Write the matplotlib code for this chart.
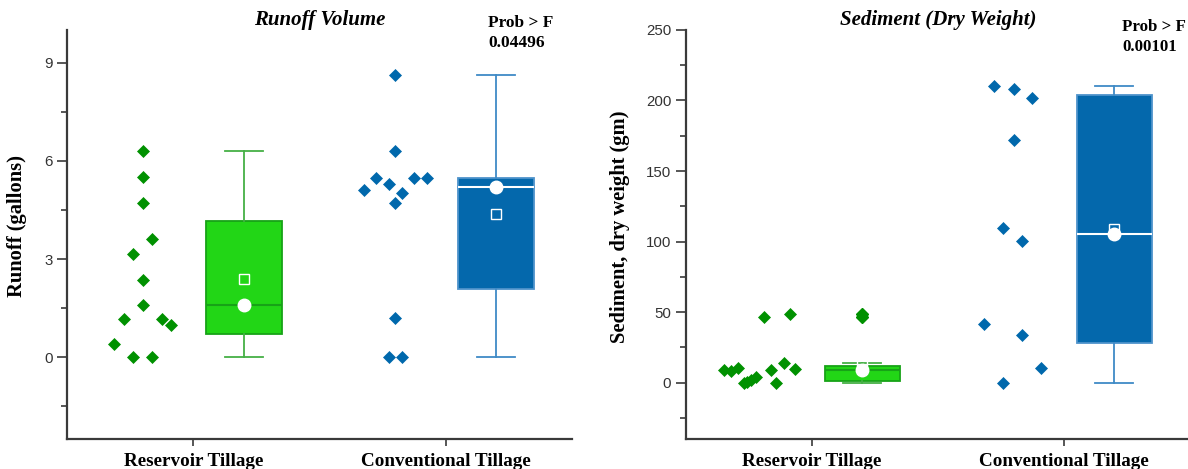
import numpy as np
import matplotlib.pyplot as plt
from matplotlib.ticker import MultipleLocator

# kategori
groups = ["Reservoir Tillage", "Conventional Tillage"]

# data runoff (gallons)
runoff_res = [6.29, 5.51, 4.71, 3.62, 3.14, 2.36, 1.59, 1.18, 1.18, 0.98, 0.41, 0.0, 0.0]
runoff_con = [8.61, 6.29, 5.49, 5.49, 5.49, 5.10, 5.30, 5.02, 4.71, 1.19, 0.0, 0.0]

# data sediment (gm)
sed_res = [9.0, 8.3, 10.3, 0.0, 0.5, 1.9, 4.3, 46.7, 8.8, 0.0, 13.7, 48.6, 9.4]
sed_con = [210.1, 208.5, 202.1, 171.7, 109.8, 100.6, 41.6, 33.6, 10.2, 0.0]

# geseran horizontal titik (jitter)
runoff_res_dx = [0, 0, 0, 0.038, -0.037, 0, 0, -0.075, 0.075, 0.113, -0.113, -0.037, 0.038]
runoff_con_dx = [0, 0, -0.075, 0.075, 0.125, -0.125, -0.025, 0.025, 0, 0, -0.025, 0.025]
sed_res_dx = [-0.149, -0.123, -0.094, -0.070, -0.057, -0.043, -0.021, 0.009, 0.036, 0.059, 0.089, 0.112, 0.134]
sed_con_dx = [-0.077, 0, 0.074, 0, -0.040, 0.035, -0.116, 0.035, 0.111, -0.040]

prob_runoff = "0.04496"
prob_sed = "0.00101"

SERIF = "Liberation Serif"
SANS = "Liberation Sans"

green = dict(dot="#009100", fill="#22D616", edge="#17A317", whisk="#45B045", med="#17A317")
blue = dict(dot="#0068AC", fill="#0468AC", edge="#4E93CB", whisk="#3F8AC6", med="white")


def box_stats(vals):
    v = np.array(vals)
    q1, med, q3 = np.percentile(v, [25, 50, 75], method="weibull")
    iqr = q3 - q1
    lo = v[v >= q1 - 1.5 * iqr].min()
    hi = v[v <= q3 + 1.5 * iqr].max()
    fl = v[(v < lo) | (v > hi)]
    return dict(med=med, q1=q1, q3=q3, whislo=lo, whishi=hi, fliers=fl), v.mean()


def draw_group(ax, vals, dx, pos, c):
    # titik data
    xs = pos - 0.2 + np.array(dx)
    ax.plot(xs, vals, "D", color=c["dot"], ms=6.3, mew=0.5, ls="none", zorder=3)
    # boxplot
    st, mean = box_stats(vals)
    ax.bxp([st], positions=[pos + 0.2], widths=0.3, capwidths=0.15, patch_artist=True,
           boxprops=dict(facecolor=c["fill"], edgecolor=c["edge"], lw=1.3),
           medianprops=dict(color=c["med"], lw=1.5),
           whiskerprops=dict(color=c["whisk"], lw=1.3),
           capprops=dict(color=c["whisk"], lw=1.3),
           flierprops=dict(marker="D", mfc=c["dot"], mec=c["dot"], ms=6.3))
    ax.plot(pos + 0.2, st["med"], "o", mfc="white", mec="white", ms=9, zorder=5)
    ax.plot(pos + 0.2, mean, "s", mfc="none", mec="white", ms=7, mew=1, zorder=5)


def style_axes(ax, ylabel, label_x):
    for s in ["top", "right"]:
        ax.spines[s].set_visible(False)
    for s in ["left", "bottom"]:
        ax.spines[s].set_color("#3a3a3a")
        ax.spines[s].set_linewidth(1.6)
    ax.set_xlim(0.5, 2.5)
    ax.set_xticks([1, 2])
    ax.set_xticklabels(groups, fontfamily=SERIF, fontweight="bold", fontsize=13.8)
    ax.tick_params(axis="x", length=5, width=1.2, color="#3a3a3a", pad=5)
    ax.tick_params(axis="y", which="major", length=7, width=1.2, color="#3a3a3a",
                   labelsize=10.8, labelcolor="#333333")
    ax.tick_params(axis="y", which="minor", length=4, width=1.2, color="#3a3a3a")
    for lab in ax.get_yticklabels():
        lab.set_fontfamily(SANS)
    ax.text(label_x, 0.52, ylabel, transform=ax.transAxes, rotation=90, ha="center",
            va="center", fontfamily=SERIF, fontweight="bold", fontsize=14.8)


fig = plt.figure(figsize=(11.88, 4.69), dpi=100)
ax1 = fig.add_axes([0.0564, 0.064, 0.4251, 0.8721])
ax2 = fig.add_axes([0.5774, 0.064, 0.4242, 0.8721])

# panel 1: runoff
draw_group(ax1, runoff_res, runoff_res_dx, 1, green)
draw_group(ax1, runoff_con, runoff_con_dx, 2, blue)
ax1.set_ylim(-2.5, 10)
ax1.set_yticks([0, 3, 6, 9])
ax1.yaxis.set_minor_locator(MultipleLocator(1.5))
style_axes(ax1, "Runoff (gallons)", -0.099)
ax1.set_title("Runoff Volume", fontfamily=SERIF, fontweight="bold", style="italic",
              fontsize=15, pad=2)
ax1.text(0.834, 1.017, "Prob > F", transform=ax1.transAxes, ha="left", va="center",
         fontfamily=SERIF, fontweight="bold", fontsize=12.5)
ax1.text(0.834, 0.968, prob_runoff, transform=ax1.transAxes, ha="left", va="center",
         fontfamily=SERIF, fontweight="bold", fontsize=12.5)

# panel 2: sediment
draw_group(ax2, sed_res, sed_res_dx, 1, green)
draw_group(ax2, sed_con, sed_con_dx, 2, blue)
ax2.set_ylim(-40, 250)
ax2.set_yticks([0, 50, 100, 150, 200, 250])
ax2.yaxis.set_minor_locator(MultipleLocator(25))
style_axes(ax2, "Sediment, dry weight (gm)", -0.13)
ax2.set_title("Sediment (Dry Weight)", fontfamily=SERIF, fontweight="bold", style="italic",
              fontsize=15, pad=2)
ax2.text(0.866, 1.007, "Prob > F", transform=ax2.transAxes, ha="left", va="center",
         fontfamily=SERIF, fontweight="bold", fontsize=12.2)
ax2.text(0.866, 0.958, prob_sed, transform=ax2.transAxes, ha="left", va="center",
         fontfamily=SERIF, fontweight="bold", fontsize=12.2)

fig.savefig("out.png", dpi=100)
